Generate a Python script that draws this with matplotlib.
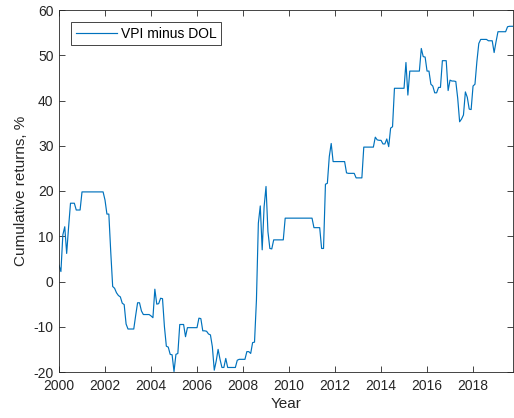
import matplotlib.pyplot as plt
import numpy as np

plt.rcParams['font.family'] = ['Liberation Sans', 'DejaVu Sans']
plt.rcParams['axes.unicode_minus'] = False

# monthly cumulative return of VPI minus DOL, %, Jan 2000 onwards
returns_2000 = [3.6, 2.2, 10.3, 12.1, 6.2, 12.0, 17.3, 17.3, 17.3, 15.8, 15.8, 15.8]
returns_2001 = [19.8, 19.8, 19.8, 19.8, 19.8, 19.8, 19.8, 19.8, 19.8, 19.8, 19.8, 19.8]
returns_2002 = [18.0, 14.9, 14.9, 6.5, -1.1, -1.5, -2.5, -3.1, -3.4, -4.8, -5.1, -9.4]
returns_2003 = [-10.5, -10.5, -10.5, -10.5, -7.5, -4.7, -4.7, -6.5, -7.3, -7.3, -7.3, -7.3]
returns_2004 = [-7.6, -8.0, -1.7, -5.0, -4.9, -3.7, -3.8, -10.0, -14.3, -14.5, -16.1, -16.2]
returns_2005 = [-19.9, -16.1, -15.9, -9.5, -9.5, -9.5, -12.2, -10.2, -10.2, -10.2, -10.2, -10.2]
returns_2006 = [-10.2, -8.1, -8.2, -10.9, -10.9, -11.0, -11.6, -11.8, -14.4, -19.6, -17.6, -15.0]
returns_2007 = [-17.2, -19.0, -19.0, -17.0, -19.0, -19.0, -19.0, -19.0, -19.0, -17.4, -17.2, -17.2]
returns_2008 = [-17.2, -17.2, -15.5, -15.5, -15.9, -13.5, -13.4, -4.1, 12.9, 16.7, 7.0, 16.5]
returns_2009 = [21.0, 11.0, 7.3, 7.2, 9.2, 9.2, 9.2, 9.2, 9.2, 9.2, 14.0, 14.0]
returns_2010 = [14.0, 14.0, 14.0, 14.0, 14.0, 14.0, 14.0, 14.0, 14.0, 14.0, 14.0, 14.0]
returns_2011 = [14.0, 11.9, 11.9, 11.9, 11.9, 7.3, 7.3, 21.5, 21.7, 27.6, 30.5, 26.5]
returns_2012 = [26.5, 26.5, 26.5, 26.5, 26.5, 26.5, 24.0, 23.9, 23.9, 23.9, 23.9, 22.9]
returns_2013 = [22.9, 22.9, 22.9, 29.7, 29.7, 29.7, 29.7, 29.7, 29.7, 31.9, 31.3, 31.2]
returns_2014 = [31.2, 30.4, 30.4, 31.5, 29.8, 33.9, 34.2, 42.7, 42.7, 42.7, 42.7, 42.7]
returns_2015 = [42.7, 48.4, 41.2, 46.5, 46.5, 46.5, 46.5, 46.5, 46.5, 51.5, 49.7, 49.6]
returns_2016 = [46.5, 46.5, 43.6, 43.2, 41.7, 41.7, 42.9, 42.9, 48.8, 48.8, 48.8, 42.2]
returns_2017 = [44.5, 44.3, 44.3, 44.2, 40.5, 35.3, 35.9, 36.8, 41.9, 40.7, 38.1, 38.0]
returns_2018 = [43.2, 43.6, 48.6, 52.6, 53.5, 53.5, 53.5, 53.5, 53.2, 53.2, 53.2, 50.6]
returns_2019 = [53.0, 55.2, 55.2, 55.2, 55.2, 55.2, 56.3, 56.4, 56.4, 56.4]

returns = (returns_2000 + returns_2001 + returns_2002 + returns_2003 + returns_2004
           + returns_2005 + returns_2006 + returns_2007 + returns_2008 + returns_2009
           + returns_2010 + returns_2011 + returns_2012 + returns_2013 + returns_2014
           + returns_2015 + returns_2016 + returns_2017 + returns_2018 + returns_2019)
years = 2000 + np.arange(len(returns)) / 12.0

fig = plt.figure(figsize=(5.14, 4.18), dpi=100)
ax = fig.add_axes([59 / 514, 1 - 372 / 418, 454.3 / 514, 362 / 418])

ax.plot(years, returns, color='#0072BD', linewidth=0.85, label='VPI minus DOL')

ax.set_xlim(2000, years[-1])
ax.set_ylim(-20, 60)
ax.set_xticks(np.arange(2000, 2019, 2))
ax.set_yticks(np.arange(-20, 61, 10))

dark = '#262626'
for side in ax.spines.values():
    side.set_color(dark)
    side.set_linewidth(0.6)
ax.tick_params(direction='in', top=True, right=True, length=4, width=0.6,
               colors=dark, labelsize=10)
ax.tick_params(axis='x', pad=5)
ax.tick_params(axis='y', pad=4)

ax.set_xlabel('Year', fontsize=11, color=dark, labelpad=3)
ax.set_ylabel('Cumulative returns, %', fontsize=11, color=dark, labelpad=4)

leg = ax.legend(loc='upper left', bbox_to_anchor=(11.7 / 454.3, 1 - 11.7 / 362),
                borderaxespad=0, fancybox=False, framealpha=1, fontsize=10,
                handlelength=2.95, handletextpad=0.3, borderpad=0.35)
leg.get_frame().set_edgecolor(dark)
leg.get_frame().set_linewidth(0.6)

fig.savefig('out.png', dpi=100)
